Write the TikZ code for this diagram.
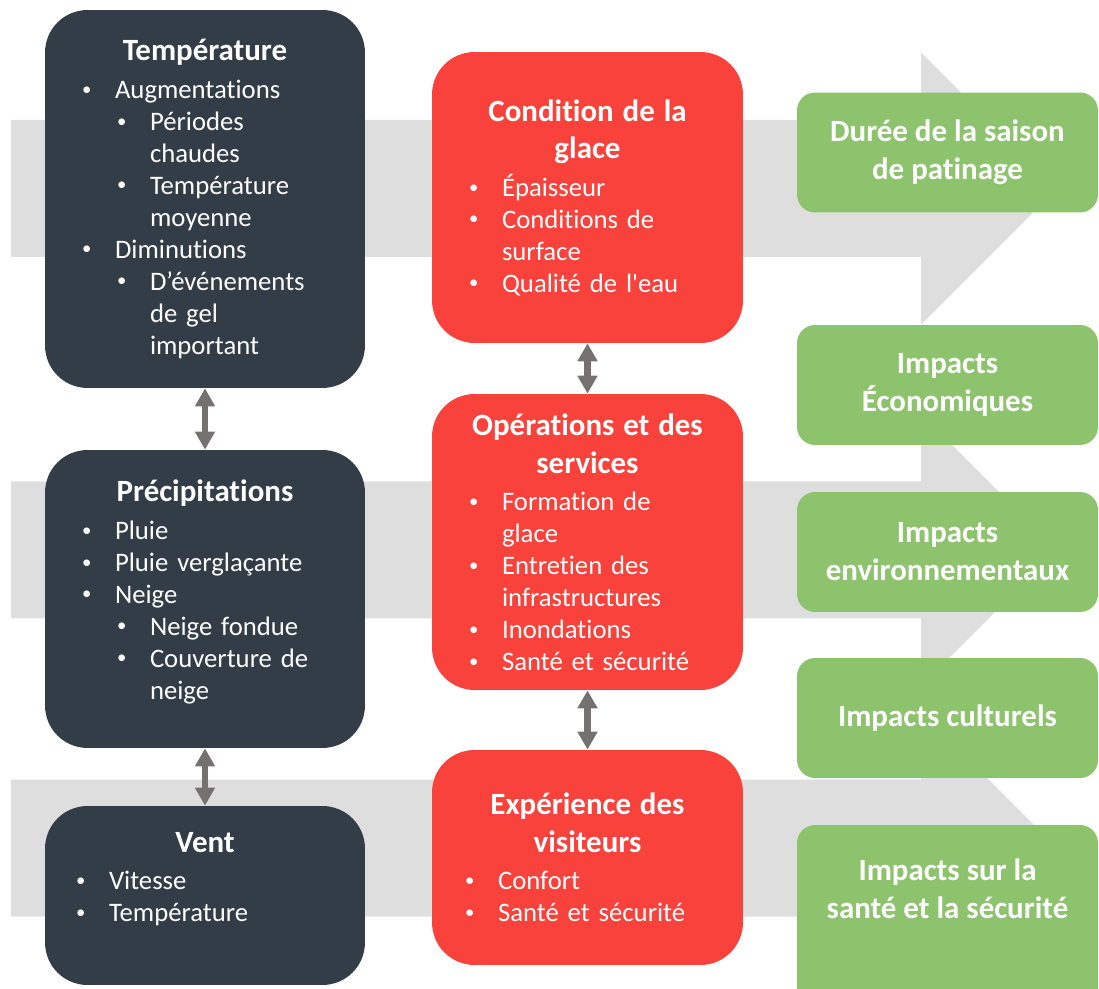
\documentclass[tikz,border=0pt]{standalone}
\usepackage{fontspec}
\setmainfont{Carlito}[Ligatures={TeX,NoCommon}]
\usetikzlibrary{arrows.meta}

\definecolor{slate}{HTML}{333D47}
\definecolor{coral}{HTML}{F8423B}
\definecolor{leaf}{HTML}{8DC36C}
\definecolor{lightgrey}{HTML}{DEDEDE}
\definecolor{arrowgrey}{HTML}{767171}

% box title and bullet lines
\newcommand{\ttl}[1]{{\centering\bfseries\fontsize{17.6}{21.6}\selectfont #1\par}\vspace{3pt}}
\newcommand{\bulmark}{\raisebox{0.12em}{\scalebox{0.7}{\textbullet}}}
\newcommand{\bul}[2][1.4cm]{{\leftskip=#1\noindent\llap{\makebox[0.66cm][l]{\bulmark}}#2\par}}
\newcommand{\subbul}[1]{\bul[2.1cm]{#1}}
\newcommand{\padbottom}[1]{\par\vspace{#1}\nointerlineskip\null}

\begin{document}
\begin{tikzpicture}[x=0.02cm,y=-0.02cm,
  darkbox/.style={fill=slate,rounded corners=0.85cm,text=white,inner xsep=0pt,text width=6.4cm,font=\fontsize{15.2}{18.2}\selectfont},
  redbox/.style={darkbox,fill=coral,text width=6.22cm},
  greentxt/.style={text=white,align=center,font=\bfseries\fontsize{17.6}{21.6}\selectfont},
  greenbox/.style={greentxt,fill=leaf,rounded corners=0.36cm,minimum width=6.02cm,minimum height=2.4cm},
  dblarrow/.style={{Triangle[width=0.38cm,length=0.36cm]}-{Triangle[width=0.38cm,length=0.36cm]},line width=0.13cm,draw=arrowgrey}]
\useasboundingbox (0,0) rectangle (1099,989);
% grey arrows in the background
\foreach \c in {188.5,550,848}
\fill[lightgrey] (11,\c-68.5) -- (921,\c-68.5) -- (921,\c-136) -- (1057,\c) -- (921,\c+136) -- (921,\c+68.5) -- (11,\c+68.5) -- cycle;

% climate factors
\node[darkbox,minimum height=7.56cm] (temp) at (205,199) {\ttl{Température}
  \bul{Augmentations}
  \subbul{Périodes\newline chaudes}
  \subbul{Température\newline moyenne}
  \bul{Diminutions}
  \subbul{D’événements\newline de gel\newline important}};
\node[darkbox,minimum height=5.96cm] (precip) at (205,599) {\ttl{Précipitations}
  \bul{Pluie}
  \bul{Pluie verglaçante}
  \bul{Neige}
  \subbul{Neige fondue}
  \subbul{Couverture de\newline neige}\padbottom{0.28cm}};
\node[darkbox,minimum height=3.58cm] (vent) at (205,895.5) {\ttl{Vent}
  \bul[1.28cm]{Vitesse}
  \bul[1.28cm]{Température}\padbottom{0.66cm}};

% rink
\node[redbox,minimum height=5.82cm] (glace) at (587.5,197.5) {\ttl{Condition de la\\glace}
  \bul{Épaisseur}
  \bul{Conditions de\newline surface}
  \bul{Qualité de l\textquotesingle eau}};
\node[redbox,minimum height=5.92cm] (oper) at (587.5,542) {\ttl{Opérations et des\\services}
  \bul{Formation de\newline glace}
  \bul{Entretien des\newline infrastructures}
  \bul{Inondations}
  \bul{Santé et sécurité}};
\node[redbox,minimum height=4.3cm] (visit) at (587.5,857.5) {\ttl{Expérience des\\visiteurs}
  \bul[1.32cm]{Confort}
  \bul[1.32cm]{Santé et sécurité}};

% impacts
\node[greenbox] (saison) at (947.5,152.5) {Durée de la saison\\de patinage};
\node[greenbox] (eco) at (947.5,385) {Impacts\\Économiques};
\node[greenbox] (envir) at (947.5,552) {Impacts\\environnementaux};
\node[greenbox] (cult) at (947.5,718) {Impacts culturels};
\node[greenbox,minimum height=3.7cm] (sante) at (947.5,917.5) {};
\node[greentxt] (santetxt) at (947.5,889) {Impacts sur la\\santé et la sécurité};

\draw[dblarrow] (temp.south) -- (precip.north);
\draw[dblarrow] (precip.south) -- (vent.north);
\draw[dblarrow] (glace.south) -- (oper.north);
\draw[dblarrow] (oper.south) -- (visit.north);
\end{tikzpicture}
\end{document}
